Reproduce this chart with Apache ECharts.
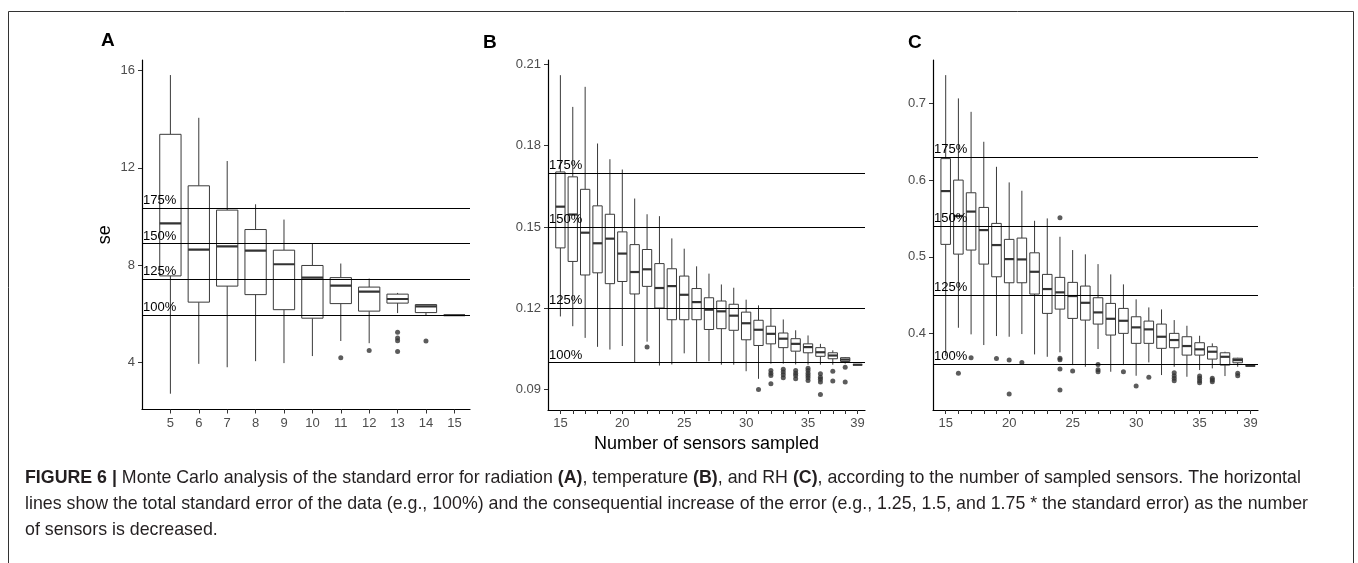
<!DOCTYPE html>
<html><head><meta charset="utf-8">
<script src="https://cdn.jsdelivr.net/npm/echarts@6/dist/echarts.min.js"></script>
<style>html,body{margin:0;padding:0;background:#fff}#c{width:1358px;height:563px}</style>
</head><body><div id="c"></div><script>
// ---- Panel A (radiation): [n, low whisker, Q1, median, Q3, high whisker]
const boxA = [
  [5, 2.70, 7.55, 9.71, 13.38, 15.82],
  [6, 3.93, 6.47, 8.63, 11.26, 14.06],
  [7, 3.79, 7.13, 8.77, 10.26, 12.28],
  [8, 4.04, 6.78, 8.59, 9.46, 10.50],
  [9, 3.96, 6.16, 8.03, 8.61, 9.87],
  [10, 4.25, 5.81, 7.48, 7.98, 8.88],
  [11, 4.87, 6.41, 7.15, 7.48, 8.06],
  [12, 4.78, 6.10, 6.90, 7.09, 7.44],
  [13, 6.02, 6.43, 6.60, 6.80, 6.85],
  [14, 5.93, 6.04, 6.30, 6.37, 6.37],
  [15, 5.93, 5.93, 5.93, 5.93, 5.93]
];
const outA = [[11, 4.18], [12, 4.48], [13, 5.23], [13, 4.99], [13, 4.88], [13, 4.44], [14, 4.87]];
const refA = [5.94, 7.42, 8.88, 10.35];

// ---- Panel B (temperature)
const boxB = [
  [15, 0.1170, 0.1423, 0.1575, 0.1703, 0.2060],
  [16, 0.1134, 0.1373, 0.1546, 0.1685, 0.1943],
  [17, 0.1091, 0.1323, 0.1479, 0.1639, 0.2017],
  [18, 0.1058, 0.1331, 0.1440, 0.1578, 0.1808],
  [19, 0.1048, 0.1291, 0.1457, 0.1547, 0.1750],
  [20, 0.1061, 0.1299, 0.1402, 0.1482, 0.1712],
  [21, 0.1001, 0.1253, 0.1334, 0.1435, 0.1605],
  [22, 0.1077, 0.1281, 0.1344, 0.1417, 0.1547],
  [23, 0.0989, 0.1201, 0.1275, 0.1365, 0.1540],
  [24, 0.0993, 0.1158, 0.1282, 0.1346, 0.1458],
  [25, 0.1034, 0.1158, 0.1250, 0.1319, 0.1420],
  [26, 0.1003, 0.1158, 0.1223, 0.1273, 0.1355],
  [27, 0.1005, 0.1122, 0.1195, 0.1239, 0.1328],
  [28, 0.0992, 0.1125, 0.1189, 0.1227, 0.1288],
  [29, 0.0992, 0.1119, 0.1173, 0.1215, 0.1276],
  [30, 0.0968, 0.1084, 0.1145, 0.1186, 0.1232],
  [31, 0.0940, 0.1063, 0.1121, 0.1156, 0.1211],
  [32, 0.0996, 0.1069, 0.1106, 0.1134, 0.1201],
  [33, 0.0996, 0.1055, 0.1088, 0.1109, 0.1159],
  [34, 0.0993, 0.1042, 0.1069, 0.1088, 0.1119],
  [35, 0.0992, 0.1036, 0.1057, 0.1069, 0.1100],
  [36, 0.0992, 0.1023, 0.1038, 0.1055, 0.1069],
  [37, 0.0992, 0.1014, 0.1026, 0.1036, 0.1045],
  [38, 0.0996, 0.1004, 0.1011, 0.1018, 0.1020],
  [39, 0.0992, 0.0992, 0.0992, 0.0992, 0.0992]
];
const outB = [
  [22, 0.1057], [31, 0.0901],
  [32, 0.0971], [32, 0.0961], [32, 0.0952], [32, 0.0922],
  [33, 0.0975], [33, 0.0965], [33, 0.0955], [33, 0.0944],
  [34, 0.0971], [34, 0.0961], [34, 0.0952], [34, 0.0940],
  [35, 0.0979], [35, 0.0971], [35, 0.0961], [35, 0.0952], [35, 0.0944], [35, 0.0934],
  [36, 0.0959], [36, 0.0946], [36, 0.0938], [36, 0.0928], [36, 0.0882],
  [37, 0.0968], [37, 0.0932],
  [38, 0.0983], [38, 0.0928]
];
const refB = [0.0992, 0.1243, 0.1489, 0.1739];

// ---- Panel C (RH)
const boxC = [
  [15, 0.3710, 0.5163, 0.5857, 0.6280, 0.7367],
  [16, 0.4077, 0.5036, 0.5533, 0.6000, 0.7064],
  [17, 0.3991, 0.5089, 0.5590, 0.5835, 0.6889],
  [18, 0.3852, 0.4906, 0.5349, 0.5644, 0.6499],
  [19, 0.3969, 0.4741, 0.5154, 0.5436, 0.6173],
  [20, 0.3960, 0.4663, 0.4971, 0.5228, 0.5970],
  [21, 0.3995, 0.4663, 0.4967, 0.5245, 0.5861],
  [22, 0.3730, 0.4516, 0.4806, 0.5053, 0.5470],
  [23, 0.3699, 0.4264, 0.4581, 0.4772, 0.5501],
  [24, 0.3757, 0.4320, 0.4538, 0.4733, 0.5262],
  [25, 0.3591, 0.4199, 0.4490, 0.4668, 0.5089],
  [26, 0.3569, 0.4177, 0.4402, 0.4620, 0.5033],
  [27, 0.3800, 0.4125, 0.4277, 0.4468, 0.4906],
  [28, 0.3504, 0.3982, 0.4194, 0.4394, 0.4772],
  [29, 0.3591, 0.4004, 0.4168, 0.4329, 0.4642],
  [30, 0.3452, 0.3874, 0.4082, 0.4220, 0.4447],
  [31, 0.3626, 0.3874, 0.4056, 0.4164, 0.4342],
  [32, 0.3461, 0.3809, 0.3960, 0.4125, 0.4316],
  [33, 0.3569, 0.3817, 0.3917, 0.4004, 0.4177],
  [34, 0.3439, 0.3721, 0.3839, 0.3960, 0.4103],
  [35, 0.3526, 0.3721, 0.3796, 0.3882, 0.3973],
  [36, 0.3548, 0.3669, 0.3765, 0.3830, 0.3874],
  [37, 0.3448, 0.3591, 0.3699, 0.3751, 0.3765],
  [38, 0.3569, 0.3621, 0.3656, 0.3680, 0.3686],
  [39, 0.3582, 0.3582, 0.3582, 0.3582, 0.3582]
];
const outC = [
  [16, 0.3483], [17, 0.3686], [19, 0.3678], [20, 0.3656], [20, 0.3214], [21, 0.3626],
  [24, 0.5509], [24, 0.3680], [24, 0.3660], [24, 0.3539], [24, 0.3266],
  [25, 0.3513], [27, 0.3600], [27, 0.3530], [27, 0.3504], [29, 0.3504],
  [30, 0.3318], [31, 0.3431],
  [33, 0.3491], [33, 0.3452], [33, 0.3418], [33, 0.3387],
  [35, 0.3448], [35, 0.3418], [35, 0.3387], [35, 0.3361],
  [36, 0.3418], [36, 0.3396], [36, 0.3374],
  [38, 0.3483], [38, 0.3452]
];
const refC = [0.3583, 0.4487, 0.5379, 0.6277];

const refLabels = ['100%', '125%', '150%', '175%'];
const xTicksA = [5, 6, 7, 8, 9, 10, 11, 12, 13, 14, 15];
const xTicksBC = [15, 16, 17, 18, 19, 20, 21, 22, 23, 24, 25, 26, 27, 28, 29, 30, 31, 32, 33, 34, 35, 36, 37, 38, 39];
const xLabelsBC = [15, 20, 25, 30, 35, 39];
const yTicksA = [4, 8, 12, 16];
const yTicksB = [0.09, 0.12, 0.15, 0.18, 0.21];
const yTicksC = [0.4, 0.5, 0.6, 0.7];

const FONT = 'Liberation Sans, Arial, Helvetica, sans-serif';
const chart = echarts.init(document.getElementById('c'), null, {renderer: 'canvas'});

function renderBox(params, api) {
  const x = api.value(0);
  const lo = api.coord([x, api.value(1)]);
  const q1 = api.coord([x, api.value(2)]);
  const md = api.coord([x, api.value(3)]);
  const q3 = api.coord([x, api.value(4)]);
  const hi = api.coord([x, api.value(5)]);
  const w = api.size([0.75, 0])[0];
  const h = w / 2;
  const stroke = '#3a3a3a';
  return {
    type: 'group',
    children: [
      {type: 'line', shape: {x1: lo[0], y1: lo[1], x2: q1[0], y2: q1[1]}, style: {stroke: stroke, lineWidth: 1}},
      {type: 'line', shape: {x1: q3[0], y1: q3[1], x2: hi[0], y2: hi[1]}, style: {stroke: stroke, lineWidth: 1}},
      {type: 'rect', shape: {x: q3[0] - h, y: q3[1], width: w, height: q1[1] - q3[1]}, style: {fill: '#fff', stroke: stroke, lineWidth: 1}},
      {type: 'line', shape: {x1: md[0] - h, y1: md[1], x2: md[0] + h, y2: md[1]}, style: {stroke: '#333', lineWidth: 2.2}}
    ]
  };
}

function xAxisCfg(idx, min, max, ticks, labels, name) {
  return {
    type: 'value', gridIndex: idx, min: min, max: max,
    name: name || '', nameLocation: 'middle', nameGap: 24,
    nameTextStyle: {fontSize: 18, color: '#000', fontFamily: FONT},
    axisLine: {show: true, onZero: false, lineStyle: {color: '#000', width: 1.2}},
    axisTick: {show: true, length: 4, customValues: ticks, lineStyle: {color: '#333', width: 1}},
    axisLabel: {customValues: labels, color: '#4d4d4d', fontSize: 13, fontFamily: FONT, margin: 7},
    splitLine: {show: false}
  };
}
function yAxisCfg(idx, min, max, ticks, name) {
  return {
    type: 'value', gridIndex: idx, min: min, max: max,
    name: name || '', nameLocation: 'middle', nameGap: 28,
    nameTextStyle: {fontSize: 18, color: '#000', fontFamily: FONT},
    axisLine: {show: true, onZero: false, lineStyle: {color: '#000', width: 1.2}},
    axisTick: {show: true, length: 4, customValues: ticks, lineStyle: {color: '#333', width: 1}},
    axisLabel: {customValues: ticks, color: '#4d4d4d', fontSize: 13, fontFamily: FONT, margin: 7},
    splitLine: {show: false}
  };
}
function refLines(vals) {
  return {
    silent: true, symbol: 'none', animation: false,
    lineStyle: {color: '#000', width: 1, type: 'solid'},
    label: {position: 'insideStartTop', distance: [1, 1], color: '#000', fontSize: 13, fontFamily: FONT},
    data: vals.map((v, i) => ({yAxis: v, label: {formatter: refLabels[i]}}))
  };
}
function boxSeries(idx, data) {
  return {type: 'custom', xAxisIndex: idx, yAxisIndex: idx, renderItem: renderBox,
    encode: {x: 0, y: [1, 2, 3, 4, 5]}, data: data, z: 2, animation: false, clip: true};
}
function outSeries(idx, data, refs) {
  return {type: 'scatter', xAxisIndex: idx, yAxisIndex: idx, data: data, symbol: 'circle', symbolSize: 5,
    itemStyle: {color: '#333'}, z: 3, animation: false, markLine: refLines(refs)};
}

const caption1 = '{b|FIGURE 6 |} Monte Carlo analysis of the standard error for radiation {b|(A)}, temperature {b|(B)}, and RH {b|(C)}, according to the number of sampled sensors. The horizontal';
const caption2 = 'lines show the total standard error of the data (e.g., 100%) and the consequential increase of the error (e.g., 1.25, 1.5, and 1.75 * the standard error) as the number';
const caption3 = 'of sensors is decreased.';
const CAP = 17.8;
const capStyle = (t, y) => ({type: 'text', left: 25, top: y, style: {text: t, fontSize: CAP, fontFamily: FONT, fill: '#231f20',
  rich: {b: {fontWeight: 'bold', fontSize: CAP, fontFamily: FONT, fill: '#231f20'}}}});

chart.setOption({
  backgroundColor: '#fff',
  animation: false,
  grid: [
    {left: 142, top: 60, width: 328, height: 349.5},
    {left: 548, top: 60, width: 317, height: 350},
    {left: 933, top: 60, width: 325, height: 350}
  ],
  xAxis: [
    xAxisCfg(0, 4, 15.55, xTicksA, xTicksA),
    xAxisCfg(1, 14, 39.6, xTicksBC, xLabelsBC, 'Number of sensors sampled'),
    xAxisCfg(2, 14, 39.6, xTicksBC, xLabelsBC)
  ],
  yAxis: [
    yAxisCfg(0, 2.05, 16.44, yTicksA, 'se'),
    yAxisCfg(1, 0.0825, 0.2116, yTicksB),
    yAxisCfg(2, 0.3006, 0.7564, yTicksC)
  ],
  series: [
    boxSeries(0, boxA), outSeries(0, outA, refA),
    boxSeries(1, boxB), outSeries(1, outB, refB),
    boxSeries(2, boxC), outSeries(2, outC, refC)
  ],
  graphic: [
    {type: 'rect', shape: {x: 8.5, y: 11.5, width: 1345, height: 600}, style: {fill: 'none', stroke: '#333', lineWidth: 1}, silent: true},
    {type: 'text', x: 101, y: 40.5, style: {text: 'A', fontSize: 19, fontWeight: 'bold', fontFamily: FONT, fill: '#000', verticalAlign: 'middle'}},
    {type: 'text', x: 483, y: 43, style: {text: 'B', fontSize: 19, fontWeight: 'bold', fontFamily: FONT, fill: '#000', verticalAlign: 'middle'}},
    {type: 'text', x: 908, y: 43, style: {text: 'C', fontSize: 19, fontWeight: 'bold', fontFamily: FONT, fill: '#000', verticalAlign: 'middle'}},
    capStyle(caption1, 469),
    capStyle(caption2, 495),
    capStyle(caption3, 521)
  ]
});
</script></body></html>
